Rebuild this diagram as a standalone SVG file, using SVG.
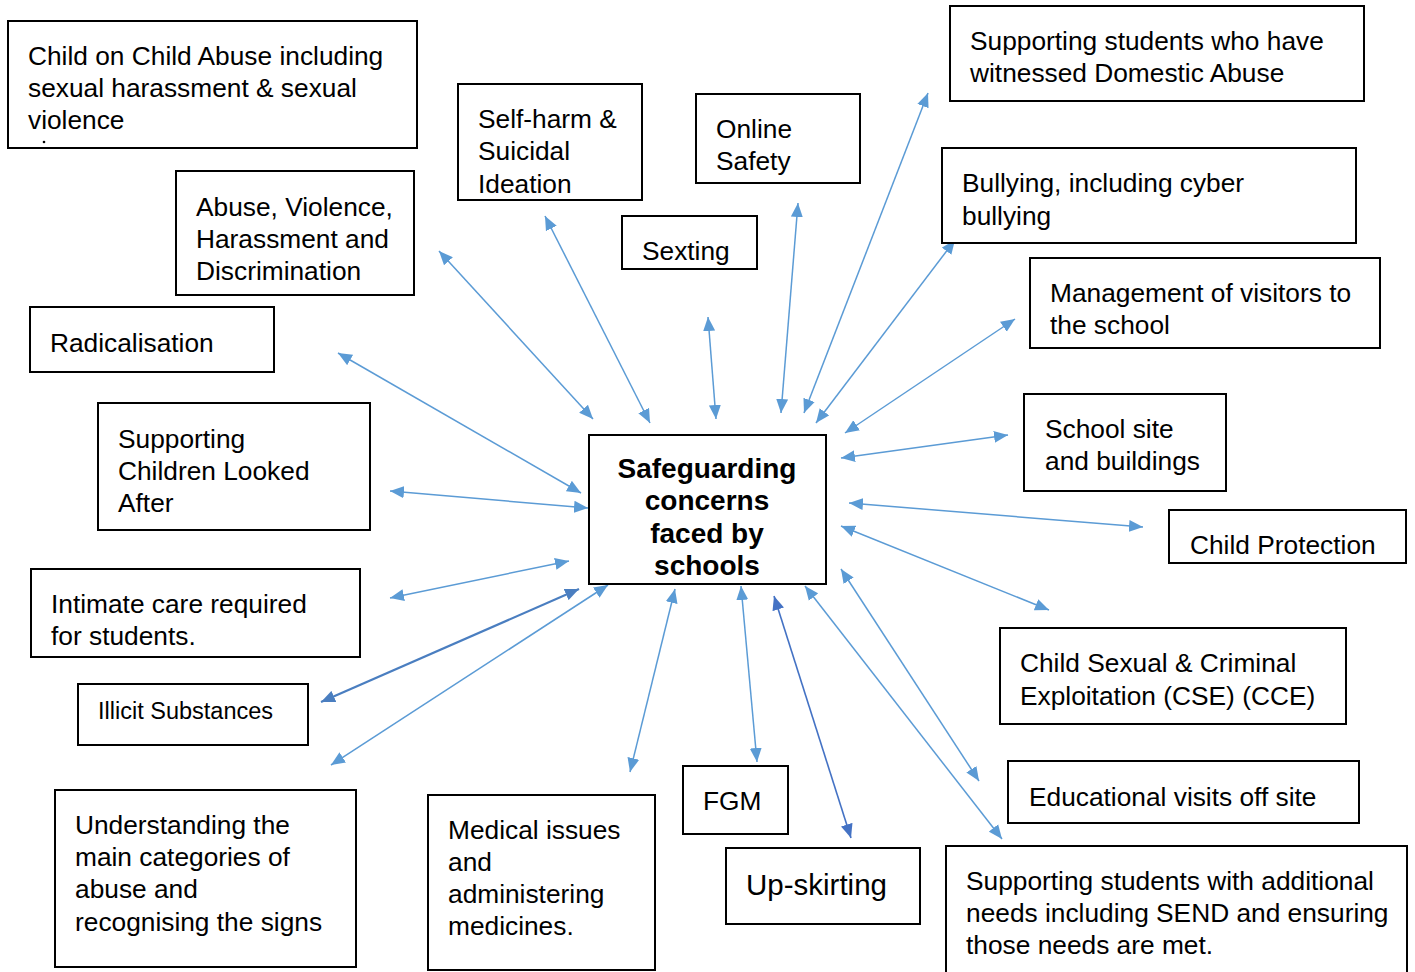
<svg xmlns="http://www.w3.org/2000/svg" width="1415" height="972" viewBox="0 0 1415 972">
<defs>
<marker id="ah" markerUnits="userSpaceOnUse" markerWidth="15" markerHeight="13" refX="14" refY="6" orient="auto-start-reverse" viewBox="0 0 15 12">
<path d="M0,0 L14,6 L0,12 z" fill="#5B9BD5"/>
</marker>
<marker id="ahd" markerUnits="userSpaceOnUse" markerWidth="15" markerHeight="13" refX="14" refY="6" orient="auto-start-reverse" viewBox="0 0 15 12">
<path d="M0,0 L14,6 L0,12 z" fill="#4472C4"/>
</marker>
<marker id="ahm" markerUnits="userSpaceOnUse" markerWidth="15" markerHeight="13" refX="14" refY="6" orient="auto-start-reverse" viewBox="0 0 15 12">
<path d="M0,0 L14,6 L0,12 z" fill="#4A7EC0"/>
</marker>
</defs>
<style>
.box{fill:#fff;stroke:#000;stroke-width:2}
.t{font-family:"Liberation Sans",Arial,sans-serif;font-size:26.3px;fill:#000}
.c{font-family:"Liberation Sans",Arial,sans-serif;font-size:28px;font-weight:bold;fill:#000;text-anchor:middle}
.a{stroke:#5B9BD5;stroke-width:1.5;fill:none;marker-start:url(#ah);marker-end:url(#ah)}
.ad{stroke:#4472C4;stroke-width:1.6;fill:none;marker-start:url(#ahd);marker-end:url(#ahd)}
.am{stroke:#4A7EC0;stroke-width:2.2;fill:none;marker-start:url(#ahm);marker-end:url(#ahm)}
</style>
<rect width="1415" height="972" fill="#fff"/>

<g id="connectors">
<line class="a" x1="545" y1="216" x2="650" y2="423"/>
<line class="a" x1="439" y1="251" x2="593" y2="419"/>
<line class="a" x1="338" y1="353" x2="581" y2="493"/>
<line class="a" x1="390" y1="491" x2="588" y2="508"/>
<line class="a" x1="390" y1="598" x2="569" y2="561"/>
<line class="am" x1="321" y1="702" x2="579" y2="589"/>
<line class="a" x1="331" y1="765" x2="608" y2="585"/>
<line class="a" x1="630" y1="772" x2="675" y2="589"/>
<line class="a" x1="741" y1="586" x2="757" y2="762"/>
<line class="ad" x1="774" y1="596" x2="851" y2="838"/>
<line class="a" x1="805" y1="586" x2="1002" y2="839"/>
<line class="a" x1="841" y1="569" x2="979" y2="781"/>
<line class="a" x1="841" y1="526" x2="1049" y2="610"/>
<line class="a" x1="849" y1="503" x2="1143" y2="527"/>
<line class="a" x1="841" y1="458" x2="1008" y2="435"/>
<line class="a" x1="845" y1="433" x2="1015" y2="319"/>
<line class="a" x1="816" y1="423" x2="955" y2="240"/>
<line class="a" x1="804" y1="413" x2="928" y2="93"/>
<line class="a" x1="781" y1="413" x2="798" y2="203"/>
<line class="a" x1="708" y1="317" x2="716" y2="419"/>
</g>

<g id="center">
<rect class="box" x="589" y="435" width="237" height="149"/>
<text class="c" x="707" y="478">Safeguarding</text>
<text class="c" x="707" y="510">concerns</text>
<text class="c" x="707" y="543">faced by</text>
<text class="c" x="707" y="575">schools</text>
</g>

<g id="n-child-on-child">
<rect class="box" x="8" y="21" width="409" height="127"/>
<text class="t" x="28" y="65">Child on Child Abuse including</text>
<text class="t" x="28" y="97">sexual harassment &amp; sexual</text>
<text class="t" x="28" y="129">violence</text>
<circle cx="44" cy="142" r="1.3" fill="#000"/>
</g>

<g id="n-self-harm">
<rect class="box" x="458" y="84" width="184" height="116"/>
<text class="t" x="478" y="128">Self-harm &amp;</text>
<text class="t" x="478" y="160">Suicidal</text>
<text class="t" x="478" y="193">Ideation</text>
</g>

<g id="n-online">
<rect class="box" x="696" y="94" width="164" height="89"/>
<text class="t" x="716" y="138">Online</text>
<text class="t" x="716" y="170">Safety</text>
</g>

<g id="n-domestic">
<rect class="box" x="950" y="6" width="414" height="95"/>
<text class="t" x="970" y="50">Supporting students who have</text>
<text class="t" x="970" y="82">witnessed Domestic Abuse</text>
</g>

<g id="n-abuse">
<rect class="box" x="176" y="171" width="238" height="124"/>
<text class="t" x="196" y="216">Abuse, Violence,</text>
<text class="t" x="196" y="248">Harassment and</text>
<text class="t" x="196" y="280">Discrimination</text>
</g>

<g id="n-sexting">
<rect class="box" x="622" y="216" width="135" height="53"/>
<text class="t" x="642" y="260">Sexting</text>
</g>

<g id="n-bullying">
<rect class="box" x="942" y="148" width="414" height="95"/>
<text class="t" x="962" y="192">Bullying, including cyber</text>
<text class="t" x="962" y="225">bullying</text>
</g>

<g id="n-visitors">
<rect class="box" x="1030" y="258" width="350" height="90"/>
<text class="t" x="1050" y="302">Management of visitors to</text>
<text class="t" x="1050" y="334">the school</text>
</g>

<g id="n-radicalisation">
<rect class="box" x="30" y="307" width="244" height="65"/>
<text class="t" x="50" y="352">Radicalisation</text>
</g>

<g id="n-cla">
<rect class="box" x="98" y="403" width="272" height="127"/>
<text class="t" x="118" y="448">Supporting</text>
<text class="t" x="118" y="480">Children Looked</text>
<text class="t" x="118" y="512">After</text>
</g>

<g id="n-site">
<rect class="box" x="1024" y="394" width="202" height="97"/>
<text class="t" x="1045" y="438">School site</text>
<text class="t" x="1045" y="470">and buildings</text>
</g>

<g id="n-protection">
<rect class="box" x="1169" y="510" width="237" height="53"/>
<text class="t" x="1190" y="554">Child Protection</text>
</g>

<g id="n-intimate">
<rect class="box" x="31" y="569" width="329" height="88"/>
<text class="t" x="51" y="613">Intimate care required</text>
<text class="t" x="51" y="645">for students.</text>
</g>

<g id="n-cse">
<rect class="box" x="1000" y="628" width="346" height="96"/>
<text class="t" x="1020" y="672">Child Sexual &amp; Criminal</text>
<text class="t" x="1020" y="705">Exploitation (CSE) (CCE)</text>
</g>

<g id="n-illicit">
<rect class="box" x="78" y="684" width="230" height="61"/>
<text class="t" x="98" y="719" style="font-size:23.5px">Illicit Substances</text>
</g>

<g id="n-visits">
<rect class="box" x="1008" y="761" width="351" height="62"/>
<text class="t" x="1029" y="806">Educational visits off site</text>
</g>

<g id="n-understanding">
<rect class="box" x="55" y="790" width="301" height="177"/>
<text class="t" x="75" y="834">Understanding the</text>
<text class="t" x="75" y="866">main categories of</text>
<text class="t" x="75" y="898">abuse and</text>
<text class="t" x="75" y="931">recognising the signs</text>
</g>

<g id="n-medical">
<rect class="box" x="428" y="795" width="227" height="175"/>
<text class="t" x="448" y="839">Medical issues</text>
<text class="t" x="448" y="871">and</text>
<text class="t" x="448" y="903">administering</text>
<text class="t" x="448" y="935">medicines.</text>
</g>

<g id="n-fgm">
<rect class="box" x="683" y="766" width="105" height="68"/>
<text class="t" x="703" y="810">FGM</text>
</g>

<g id="n-upskirting">
<rect class="box" x="726" y="848" width="194" height="76"/>
<text class="t" x="746" y="895" style="font-size:29.5px">Up-skirting</text>
</g>

<g id="n-send">
<rect class="box" x="946" y="846" width="461" height="130"/>
<text class="t" x="966" y="890">Supporting students with additional</text>
<text class="t" x="966" y="922">needs including SEND and ensuring</text>
<text class="t" x="966" y="954">those needs are met.</text>
</g>
</svg>
